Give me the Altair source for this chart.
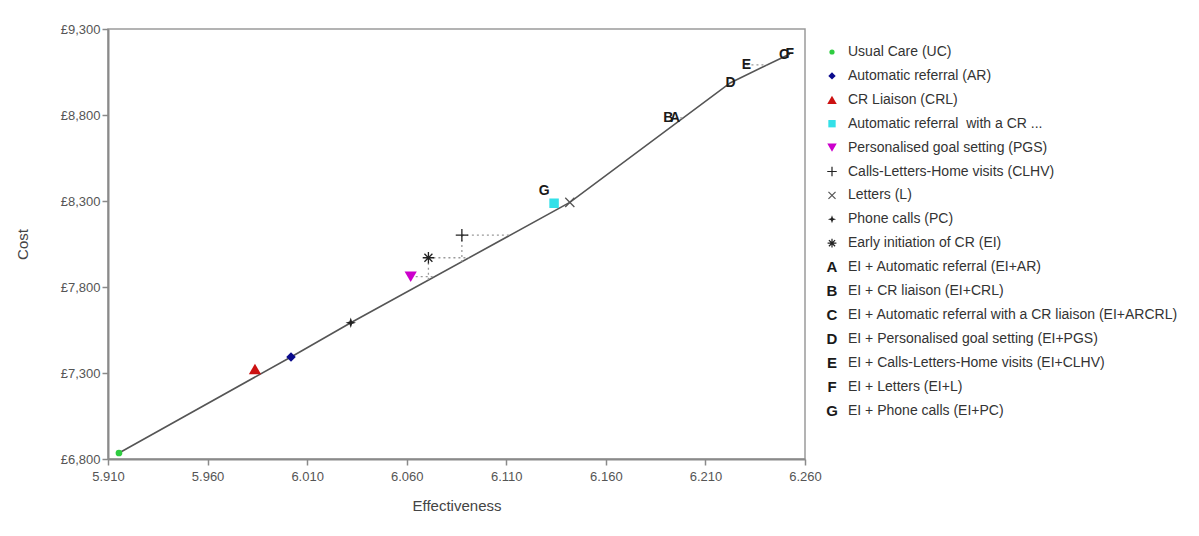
import altair as alt
import pandas as pd
import numpy as np

# ---------------- data ----------------
names = ["UC", "AR", "CRL", "ARCRL", "PGS", "CLHV", "L", "PC", "EI",
         "EI+AR", "EI+CRL", "EI+ARCRL", "EI+PGS", "EI+CLHV", "EI+L", "EI+PC"]
legend_labels = [
    "Usual Care (UC)",
    "Automatic referral (AR)",
    "CR Liaison (CRL)",
    "Automatic referral\u00a0 with a CR ...",
    "Personalised goal setting (PGS)",
    "Calls-Letters-Home visits (CLHV)",
    "Letters (L)",
    "Phone calls (PC)",
    "Early initiation of CR (EI)",
    "EI + Automatic referral (EI+AR)",
    "EI + CR liaison (EI+CRL)",
    "EI + Automatic referral with a CR liaison (EI+ARCRL)",
    "EI + Personalised goal setting (EI+PGS)",
    "EI + Calls-Letters-Home visits (EI+CLHV)",
    "EI + Letters (EI+L)",
    "EI + Phone calls (EI+PC)",
]
effectiveness = [5.9155, 6.0019, 5.9838, 6.1340, 6.0620, 6.0877, 6.1419, 6.0319, 6.0709,
                 6.1948, 6.1913, 6.2495, 6.2226, 6.2306, 6.2524, 6.1290]
cost = [6835, 7393, 7323, 8287, 7860, 8102, 8292, 7592, 7970,
        8783, 8783, 9149, 8988, 9091, 9155, 8358]
letters = ["", "", "", "", "", "", "", "", "", "A", "B", "C", "D", "E", "F", "G"]

frontier = ["UC", "AR", "PC", "L", "EI+PGS", "EI+L"]
dominated_h = ["PGS", "EI", "CLHV", "EI+AR", "EI+CLHV"]
dominated_v = ["EI", "CLHV"]

x_ticks = [5.910, 5.960, 6.010, 6.060, 6.110, 6.160, 6.210, 6.260]
y_ticks = [6800, 7300, 7800, 8300, 8800, 9300]

# symbol styles for the nine single interventions
sym_keys = names[:9]
sym_shapes = [
    "circle", "diamond", "triangle-up", "square", "triangle-down",
    "M-1,0L1,0M0,-1L0,1",
    "M-0.8,-0.8L0.8,0.8M-0.8,0.8L0.8,-0.8",
    "M0,-1L0.25,-0.25L1,0L0.25,0.25L0,1L-0.25,0.25L-1,0L-0.25,-0.25Z",
    "M-1,0L1,0M0,-1L0,1M-0.7,-0.7L0.7,0.7M-0.7,0.7L0.7,-0.7",
]
sym_colors = ["#2ecc40", "#0a0a8c", "#cc1111", "#33e0e8", "#cc00cc",
              "#222222", "#555555", "#222222", "#222222"]
sym_sizes = [45, 90, 150, 90, 150, 150, 130, 110, 130]
legend_size_factor = 0.6
filled_keys = ["UC", "AR", "CRL", "ARCRL", "PGS", "PC"]
stroked_keys = ["CLHV", "L", "EI"]

FONT = "Liberation Sans"

df = pd.DataFrame({"name": names, "label": legend_labels, "x": effectiveness,
                   "y": cost, "letter": letters, "idx": list(range(len(names)))})
style = pd.DataFrame({"name": sym_keys, "shp": sym_shapes, "col": sym_colors, "sz": sym_sizes})
df = df.merge(style, on="name", how="left")

# frontier line
fdf = df.set_index("name").loc[frontier].reset_index().sort_values("x")
fx = fdf["x"].to_numpy()
fy = fdf["y"].to_numpy()

seg = []
for n in dominated_h:
    r = df[df.name == n].iloc[0]
    seg.append({"x": r.x, "y": r.y, "x2": float(np.interp(r.y, fy, fx)), "y2": r.y})
for n in dominated_v:
    r = df[df.name == n].iloc[0]
    seg.append({"x": r.x, "y": r.y, "x2": r.x, "y2": float(np.interp(r.x, fx, fy))})
segdf = pd.DataFrame(seg)

PW, PH = 697, 430
xscale = alt.Scale(domain=[5.910, 6.260], nice=False, zero=False)
yscale = alt.Scale(domain=[6800, 9300], nice=False, zero=False)

shape_enc = alt.Shape("shp:N", scale=None)
color_enc = alt.Color("col:N", scale=None)
size_enc = alt.Size("sz:Q", scale=None)

xenc = alt.X("x:Q", scale=xscale, title="Effectiveness",
             axis=alt.Axis(values=x_ticks, format=".3f", grid=False, tickSize=6,
                           labelPadding=5, titlePadding=15, labelFlush=False))
yenc = alt.Y("y:Q", scale=yscale, title="Cost",
             axis=alt.Axis(values=y_ticks, labelExpr="'£' + format(datum.value, ',')",
                           grid=False, tickSize=6, labelPadding=2, titlePadding=30,
                           labelFlush=False))

line = alt.Chart(fdf).mark_line(color="#555555", strokeWidth=1.6).encode(
    x=xenc, y=yenc, order="x:Q")

dots = alt.Chart(segdf).mark_rule(color="#9a9a9a", strokeDash=[2, 3], strokeWidth=1.3).encode(
    x=alt.X("x:Q", scale=xscale), y=alt.Y("y:Q", scale=yscale), x2="x2:Q", y2="y2:Q")

filled_pts = alt.Chart(df).transform_filter(
    alt.FieldOneOfPredicate(field="name", oneOf=filled_keys)
).mark_point(filled=True, opacity=1).encode(
    x=alt.X("x:Q", scale=xscale), y=alt.Y("y:Q", scale=yscale),
    shape=shape_enc, color=color_enc, size=size_enc)

stroked_pts = alt.Chart(df).transform_filter(
    alt.FieldOneOfPredicate(field="name", oneOf=stroked_keys)
).mark_point(filled=False, opacity=1, strokeWidth=1.3).encode(
    x=alt.X("x:Q", scale=xscale), y=alt.Y("y:Q", scale=yscale),
    shape=shape_enc, color=color_enc, size=size_enc)

letter_pts = alt.Chart(df).transform_filter("datum.letter != ''").mark_text(
    font=FONT, fontSize=14, fontWeight="bold", color="#1a1a1a", baseline="middle",
    align="center").encode(
    x=alt.X("x:Q", scale=xscale), y=alt.Y("y:Q", scale=yscale), text="letter:N")

plot = alt.layer(line, dots, filled_pts, stroked_pts, letter_pts).properties(
    width=PW, height=PH)

# ---------------- legend panel ----------------
ROW = 23.9
top_off = 23
lscale = alt.Scale(domain=[(PH - top_off) / ROW, -top_off / ROW], nice=False, zero=False)
ly = alt.Y("idx:Q", scale=lscale, axis=None)
leg_size = alt.Size("lsz:Q", scale=None)

SX = 8
TX = 24
leg_filled = alt.Chart(df).transform_filter(
    alt.FieldOneOfPredicate(field="name", oneOf=filled_keys)
).transform_calculate(lsz=f"datum.sz * {legend_size_factor}").mark_point(
    filled=True, opacity=1).encode(
    x=alt.value(SX), y=ly, shape=shape_enc, color=color_enc, size=leg_size)
leg_stroked = alt.Chart(df).transform_filter(
    alt.FieldOneOfPredicate(field="name", oneOf=stroked_keys)
).transform_calculate(lsz=f"datum.sz * {legend_size_factor}").mark_point(
    filled=False, opacity=1, strokeWidth=1.2).encode(
    x=alt.value(SX), y=ly, shape=shape_enc, color=color_enc, size=leg_size)
leg_letters = alt.Chart(df).transform_filter("datum.letter != ''").mark_text(
    font=FONT, fontSize=15, fontWeight="bold", color="#1a1a1a", baseline="middle",
    align="center").encode(x=alt.value(SX), y=ly, text="letter:N")
leg_text = alt.Chart(df).mark_text(
    font=FONT, fontSize=14, color="#333333", baseline="middle", align="left").encode(
    x=alt.value(TX), y=ly, text="label:N")

legend = alt.layer(leg_filled, leg_stroked, leg_letters, leg_text).properties(
    width=350, height=PH, view=alt.ViewBackground(stroke="transparent"))

chart = alt.hconcat(plot, legend, spacing=0).properties(
    padding={"left": 6, "top": 14, "right": 0, "bottom": 0},
    background="white",
).configure_view(stroke="#9a9a9a", strokeWidth=1.5).configure_axis(
    labelFont=FONT, titleFont=FONT, labelFontSize=13, titleFontSize=15,
    labelColor="#555555", titleColor="#444444", titleFontWeight="normal",
    domainColor="#8a8a8a", domainWidth=2, tickColor="#8a8a8a", tickWidth=1.5,
)

chart.save("out.html", embed_options={"renderer": "svg", "actions": False})
